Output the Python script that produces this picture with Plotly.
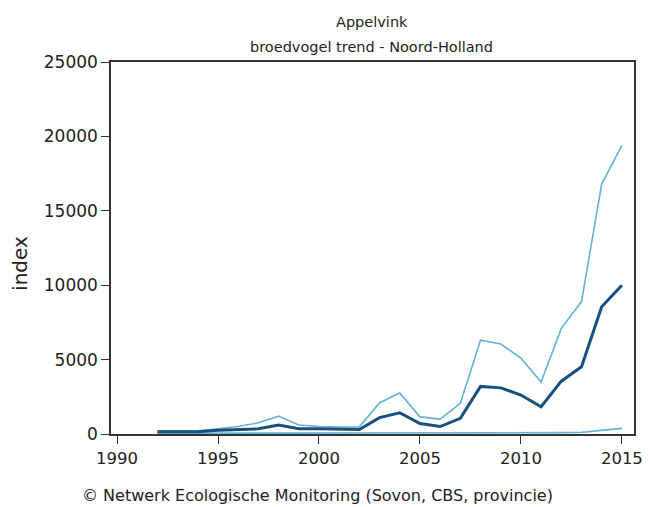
import plotly.graph_objects as go

years = list(range(1992, 2016))
index_main = [150, 150, 150, 250, 300, 350, 600, 350, 350, 300, 300, 1100, 1430, 700, 500, 1050,
              3200, 3100, 2620, 1830, 3550, 4520, 8550, 10000]
index_upper = [200, 200, 220, 350, 500, 750, 1200, 600, 500, 470, 480, 2100, 2750, 1150, 1000, 2060,
               6300, 6050, 5100, 3500, 7100, 8900, 16800, 19400]
index_lower = [50, 50, 50, 60, 60, 60, 60, 50, 50, 50, 50, 60, 60, 60, 60, 70,
               80, 80, 70, 60, 90, 110, 270, 380]

dark = "#17507f"
light = "#62b2d6"

fig = go.Figure()
fig.add_trace(go.Scatter(x=years, y=index_upper, mode="lines", line=dict(color=light, width=1.6), hoverinfo="skip"))
fig.add_trace(go.Scatter(x=years, y=index_lower, mode="lines", line=dict(color=light, width=1.6), hoverinfo="skip"))
fig.add_trace(go.Scatter(x=years, y=index_main, mode="lines", line=dict(color=dark, width=3)))

font = "DejaVu Sans"
txt = "#222"
fig.update_layout(
    width=650, height=507,
    paper_bgcolor="white", plot_bgcolor="white",
    showlegend=False,
    margin=dict(l=103, r=24, t=54, b=81),
    font=dict(family=font, color=txt, size=14),
    xaxis=dict(range=[1989.7, 2015.6], tickvals=[1990, 1995, 2000, 2005, 2010, 2015],
               showgrid=False, zeroline=False, showline=True, mirror=True, linecolor="#333", linewidth=1.5,
               ticks="outside", ticklen=8, tickcolor="#333", tickfont=dict(size=16.5)),
    yaxis=dict(range=[0, 25000], tickvals=[0, 5000, 10000, 15000, 20000, 25000], tickformat="d",
               showgrid=False, zeroline=False, showline=True, mirror=True, linecolor="#333", linewidth=1.5,
               ticks="outside", ticklen=8, tickcolor="#333", tickfont=dict(size=17)),
    annotations=[
        dict(text="Appelvink", xref="paper", yref="paper", x=0.499, y=1.1075,
             xanchor="center", yanchor="middle", showarrow=False, font=dict(size=14.5)),
        dict(text="broedvogel trend - Noord-Holland", xref="paper", yref="paper", x=0.499, y=1.0403,
             xanchor="center", yanchor="middle", showarrow=False, font=dict(size=14.5)),
        dict(text="index", xref="paper", yref="paper", x=-0.174, y=0.46, textangle=-90,
             xanchor="center", yanchor="middle", showarrow=False, font=dict(size=20)),
        dict(text="© Netwerk Ecologische Monitoring (Sovon, CBS, provincie)", xref="paper", yref="paper",
             x=0.394, y=-0.164, xanchor="center", yanchor="middle", showarrow=False,
             font=dict(size=16)),
    ],
)

fig.write_html("out.html")
